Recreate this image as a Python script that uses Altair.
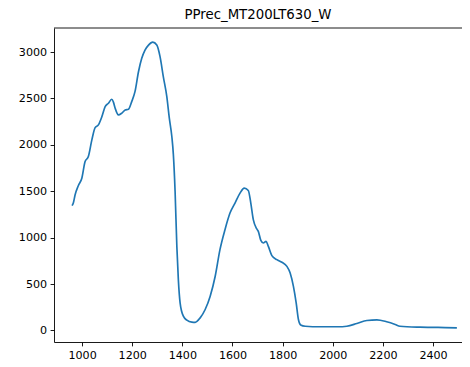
import altair as alt
import pandas as pd

title = "PPrec_MT200LT630_W"
wavelength = [960, 965, 972, 985, 999, 1012, 1025, 1039, 1052, 1065, 1079, 1092, 1105, 1118,
              1125, 1132, 1145, 1158, 1172, 1185, 1198, 1211, 1225, 1238, 1251, 1265, 1282,
              1298, 1311, 1324, 1338, 1348, 1358, 1364, 1371, 1378, 1384, 1391, 1404, 1418,
              1438, 1451, 1471, 1491, 1511, 1531, 1550, 1570, 1590, 1610, 1630, 1647, 1663,
              1673, 1683, 1697, 1703, 1713, 1723, 1734, 1743, 1757, 1777, 1797, 1817, 1830,
              1843, 1854, 1863, 1872, 1890, 1949, 2020, 2056, 2096, 2136, 2176, 2215, 2249,
              2268, 2348, 2420, 2495]
signal = [1345, 1373, 1460, 1560, 1640, 1820, 1874, 2054, 2186, 2215, 2304, 2412, 2448, 2491,
          2460, 2394, 2323, 2341, 2376, 2384, 2466, 2573, 2788, 2932, 3021, 3075, 3107,
          3075, 2950, 2735, 2519, 2287, 2090, 1900, 1500, 906, 548, 298, 154, 111,
          90, 88, 136, 226, 369, 584, 871, 1086, 1265, 1373, 1480, 1534, 1509,
          1373, 1194, 1094, 1068, 971, 943, 960, 906, 806, 763, 735, 691, 620,
          476, 298, 118, 60, 46, 40, 40, 46, 75, 108, 115, 94, 65,
          46, 36, 33, 29]
x_ticks = [1000, 1200, 1400, 1600, 1800, 2000, 2200, 2400]
y_ticks = [0, 500, 1000, 1500, 2000, 2500, 3000]

df = pd.DataFrame({"wl": wavelength, "val": signal})

W, H = 408, 314
px_per_x = 0.2507
x_min = 888
x_max = x_min + W / px_per_x
y_min, y_max = -124, 3259

axis_common = dict(
    title=None,
    grid=False,
    domainColor="black",
    domainWidth=0.9,
    tickColor="black",
    tickWidth=0.9,
    tickSize=3.9,
    labelPadding=3.5,
    labelFont="DejaVu Sans",
    labelFontSize=11.1,
    labelColor="black",
)

line = alt.Chart(df).mark_line(color="#1f77b4", strokeWidth=1.67, interpolate="monotone").encode(
    x=alt.X("wl:Q", scale=alt.Scale(domain=[x_min, x_max], nice=False, zero=False),
            axis=alt.Axis(values=x_ticks, format="d", labelFlush=False, **axis_common)),
    y=alt.Y("val:Q", scale=alt.Scale(domain=[y_min, y_max], nice=False, zero=False),
            axis=alt.Axis(values=y_ticks, format="d", labelFlush=False, **axis_common)),
)

top_spine = alt.Chart(pd.DataFrame({"k": [0]})).mark_rule(color="black", strokeWidth=0.9).encode(
    x=alt.value(0), x2=alt.value(W), y=alt.value(0)
)

chart = alt.layer(line, top_spine).properties(
    width=W,
    height=H,
    title=alt.TitleParams(title, font="DejaVu Sans", fontSize=13.3, fontWeight="normal",
                          color="black", offset=6, anchor="middle"),
    autosize=alt.AutoSizeParams(type="none"),
    padding={"left": 46, "top": 20, "right": 0, "bottom": 19},
).configure_view(stroke=None)

chart.save("out.html", embed_options={"renderer": "svg", "actions": False})
